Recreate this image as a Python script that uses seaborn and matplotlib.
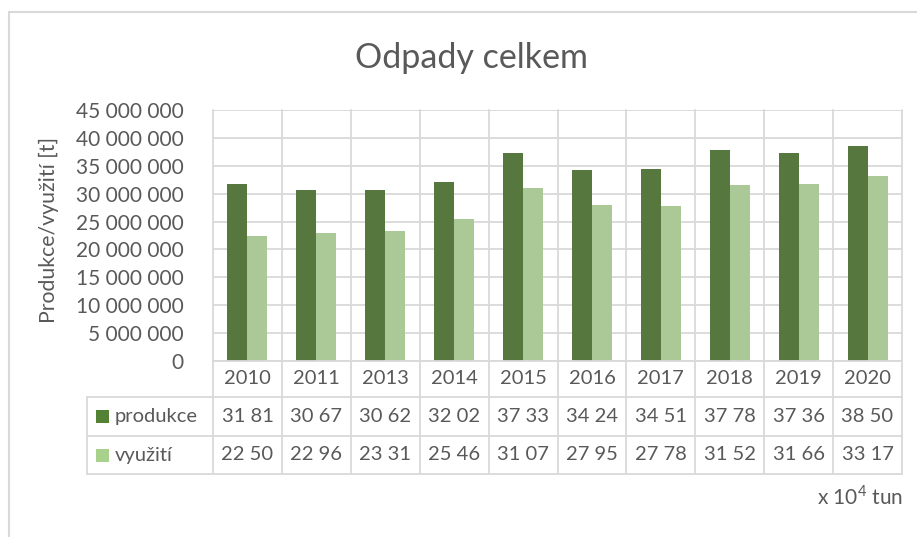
import numpy as np
import pandas as pd
import matplotlib
matplotlib.use("Agg")
import matplotlib.pyplot as plt
from matplotlib.patches import Rectangle
from matplotlib.ticker import FuncFormatter
import seaborn as sns

# data (x 10^4 tun, as shown in the data table)
roky = ["2010", "2011", "2013", "2014", "2015", "2016", "2017", "2018", "2019", "2020"]
produkce = [3181, 3067, 3062, 3202, 3733, 3424, 3451, 3778, 3736, 3850]
vyuziti = [2250, 2296, 2331, 2546, 3107, 2795, 2778, 3152, 3166, 3317]
serie = ["produkce", "využití"]

barvy = ["#548235", "#A9D18E"]
sediva = "#D9D9D9"
text_barva = "#595959"

df = pd.DataFrame({"rok": roky * 2,
                   "serie": [serie[0]] * len(roky) + [serie[1]] * len(roky),
                   "tuny": [v * 1e4 for v in produkce + vyuziti]})

sns.set_style("white")
plt.rcParams["font.family"] = ["Lato", "DejaVu Sans"]
plt.rcParams["text.color"] = text_barva

fig = plt.figure(figsize=(9.17, 5.37), dpi=100)
W, H = 917, 537
x0, x1, y0, y1 = 213, 902, 361, 110  # plot area in pixels
ax = fig.add_axes([x0 / W, 1 - y0 / H, (x1 - x0) / W, (y0 - y1) / H])

sns.barplot(data=df, x="rok", y="tuny", hue="serie", order=roky, hue_order=serie,
            palette=barvy, width=0.58, linewidth=0, legend=False, ax=ax)

ax.set_xlim(-0.5, len(roky) - 0.5)
ax.set_ylim(0, 45e6)
ax.set_yticks(np.arange(0, 45e6 + 1, 5e6))
ax.yaxis.set_major_formatter(FuncFormatter(lambda v, p: f"{int(v):,}".replace(",", " ")))
ax.tick_params(axis="y", length=0, pad=21, labelsize=15, labelcolor=text_barva)
ax.set_xticks([])
ax.set_xlabel("")
ax.set_ylabel("")
ax.yaxis.grid(True, color=sediva, lw=1.3)
ax.set_axisbelow(True)
for s in ax.spines.values():
    s.set_visible(False)

# data table lines
ph = y0 - y1
pw = x1 - x0
def ay(ypix):
    return (y0 - ypix) / ph
def ax_(xpix):
    return (xpix - x0) / pw

radky = [361, 397, 436, 474]
leg_x = ax_(87)
kw = dict(transform=ax.transAxes, clip_on=False, color=sediva, lw=1.3)
for i in range(len(roky) + 1):
    ax.plot([i / len(roky)] * 2, [1, ay(radky[-1])], **kw)
ax.plot([0, 1], [0, 0], **kw)
for r in radky[1:]:
    ax.plot([leg_x, 1], [ay(r)] * 2, **kw)
ax.plot([leg_x, leg_x], [ay(radky[1]), ay(radky[-1])], **kw)

# table text
fs = 14.5
for i, rok in enumerate(roky):
    xc = (i + 0.5) / len(roky)
    ax.text(xc, ay((radky[0] + radky[1]) / 2), rok, transform=ax.transAxes,
            ha="center", va="center", fontsize=fs, color=text_barva)
    for j, hodnoty in enumerate([produkce, vyuziti]):
        v = hodnoty[i]
        ax.text(xc, ay((radky[j + 1] + radky[j + 2]) / 2), f"{v // 100} {v % 100:02d}",
                transform=ax.transAxes, ha="center", va="center", fontsize=fs, color=text_barva)

# legend keys in the table
for j, nazev in enumerate(serie):
    yc = ay((radky[j + 1] + radky[j + 2]) / 2)
    ax.add_patch(Rectangle((ax_(96), yc - 6.5 / ph), 13 / pw, 13 / ph, transform=ax.transAxes,
                           facecolor=barvy[j], edgecolor="none", clip_on=False))
    ax.text(ax_(115), yc, nazev, transform=ax.transAxes, ha="left", va="center",
            fontsize=fs, color=text_barva)

# titles and notes
fig.text(471 / W, 1 - 68 / H, "Odpady celkem", ha="center", va="baseline", fontsize=24.5, color=text_barva)
fig.text(49 / W, 1 - 230 / H, "Produkce/využití [t]", rotation=90, ha="center", va="center",
         fontsize=15.3, color=text_barva)
fig.text(903 / W, 1 - 497 / H, r"x 10$^{\mathregular{4}}$ tun", ha="right", va="center",
         fontsize=15, color=text_barva)

# chart frame
fig.patches.append(Rectangle((9 / W, -0.1), 1.2, 1 - 12 / H + 0.1, transform=fig.transFigure,
                             facecolor="none", edgecolor=sediva, lw=1.5))

fig.savefig("out.png", dpi=100)
